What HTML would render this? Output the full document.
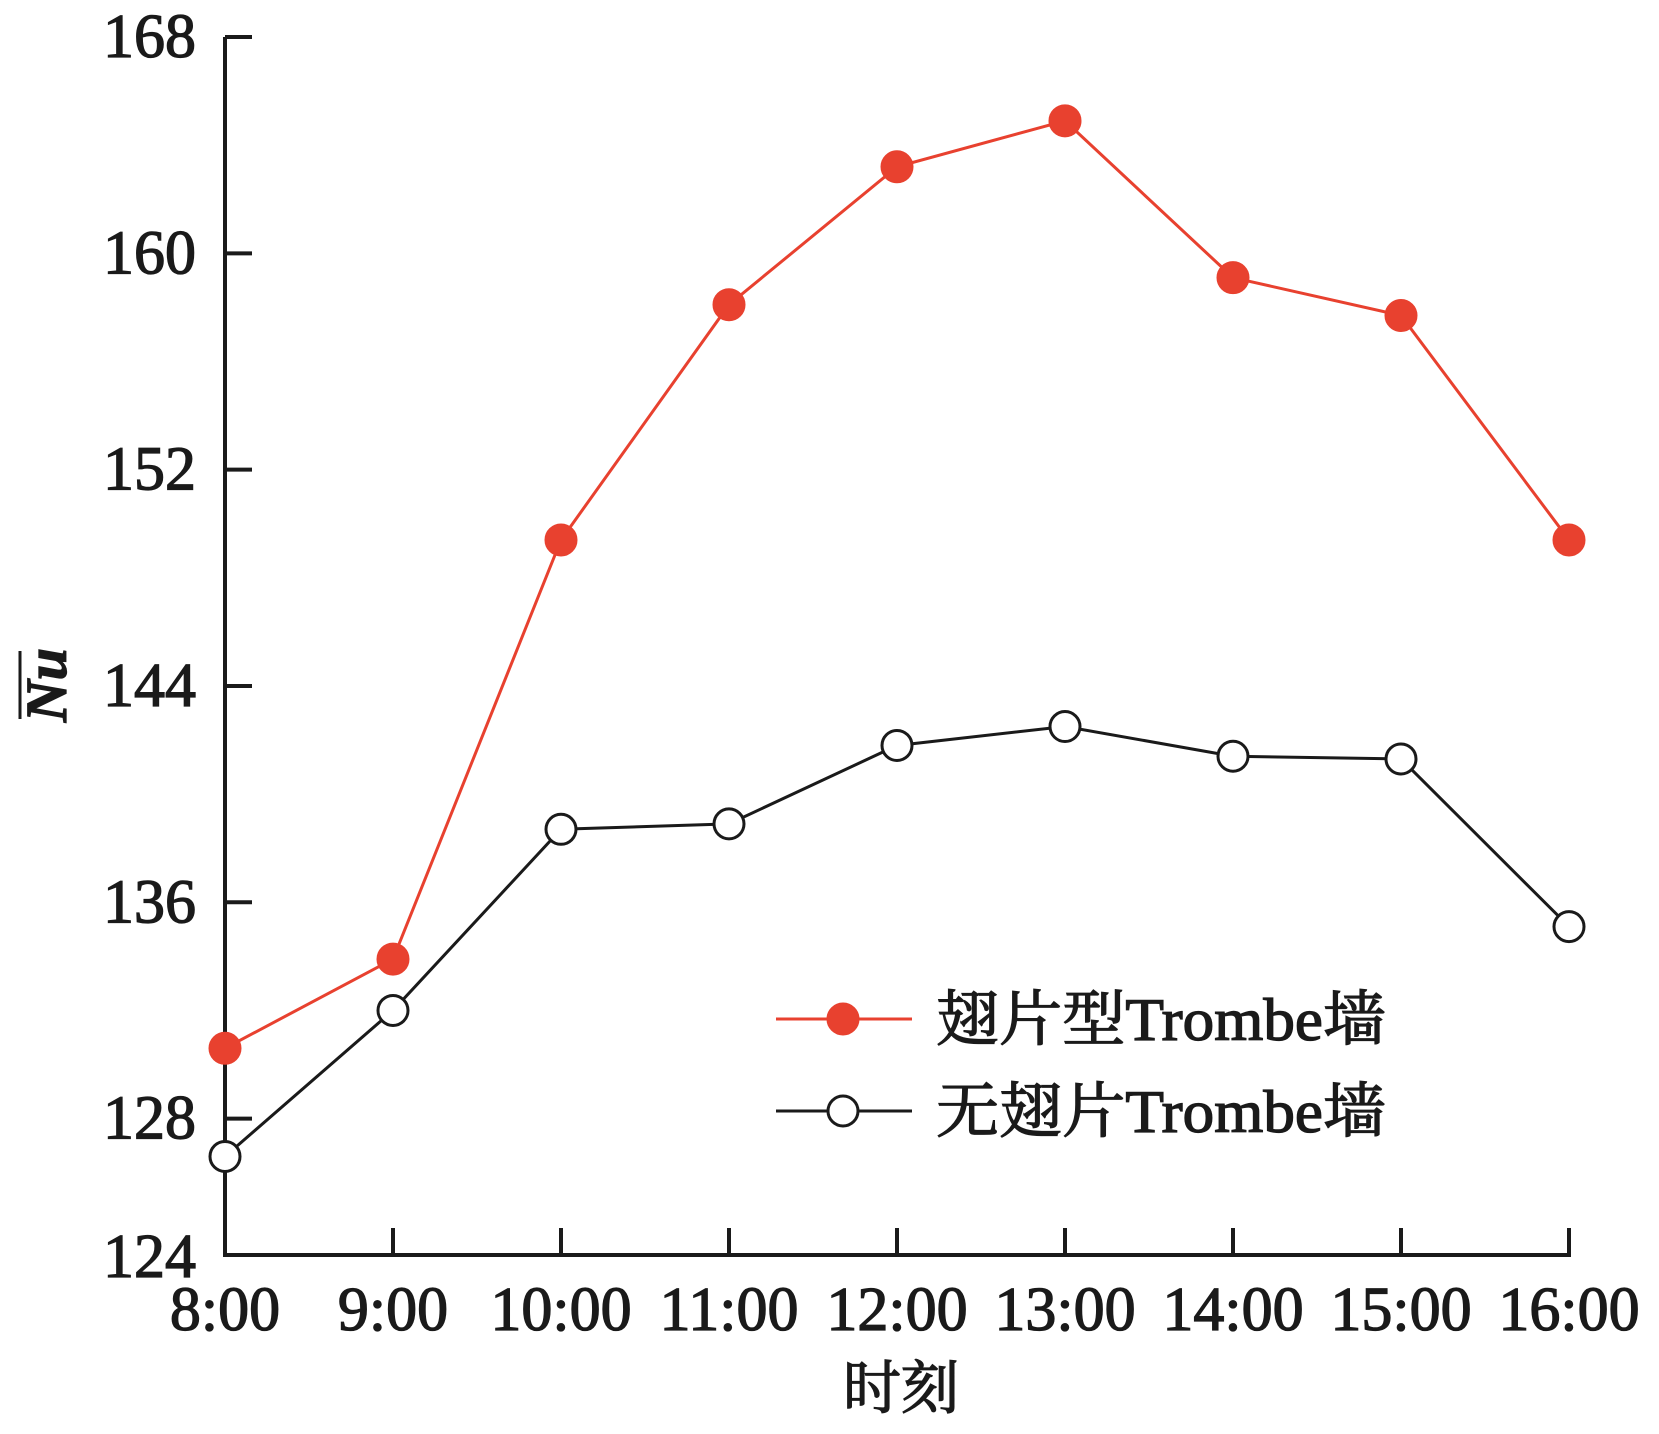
<!DOCTYPE html>
<html><head><meta charset="utf-8"><style>
html,body{margin:0;padding:0;background:#fff;}
svg{display:block;}
text{font-family:"Liberation Serif","Noto Serif CJK SC",serif;fill:#1a1a1a;stroke:#1a1a1a;stroke-width:1.3;}
</style></head><body>
<svg id="chart" width="1659" height="1434" viewBox="0 0 1659 1434"></svg>
<script>
const categories=["8:00","9:00","10:00","11:00","12:00","13:00","14:00","15:00","16:00"];
const finnedValues=[130.6,133.9,149.4,158.1,163.2,164.9,159.1,157.7,149.4];
const plainValues=[126.6,132.0,138.7,138.9,141.8,142.5,141.4,141.3,135.1];
const yTicks=[128,136,144,152,160,168];
const yBottomLabel=124;
const seriesNames=["翅片型Trombe墙","无翅片Trombe墙"];

const NS="http://www.w3.org/2000/svg";
const svg=document.getElementById('chart');
const X0=225,XSTEP=168,Y0=1255,YMAX=168,YTOP=37,PXPERUNIT=27.04;
const xs=i=>X0+i*XSTEP;
const ys=v=>YTOP+(YMAX-v)*PXPERUNIT;
function mk(tag,attrs,parent){const e=document.createElementNS(NS,tag);for(const k in attrs)e.setAttribute(k,attrs[k]);(parent||svg).appendChild(e);return e;}

const axes=mk('g',{});


const ya=mk('line',{x1:X0,y1:YTOP,x2:X0,y2:Y0,stroke:'#1a1a1a','stroke-width':4},axes);


const xa=mk('line',{x1:X0-2,y1:Y0,x2:xs(categories.length-1)+2,y2:Y0,stroke:'#1a1a1a','stroke-width':4},axes);



yTicks.forEach(t=>{
  const y=ys(t);
  const tk=mk('line',{x1:X0,y1:y,x2:X0+27,y2:y,stroke:'#1a1a1a','stroke-width':4},axes);
  
  
  const lb=mk('text',{x:196,y:y+20,'font-size':62,'text-anchor':'end'},axes);
  lb.textContent=t;
  
  
});
const bl=mk('text',{x:196,y:Y0+22,'font-size':62,'text-anchor':'end'},axes);
bl.textContent=yBottomLabel;



categories.forEach((c,i)=>{
  const x=xs(i);
  const tk=mk('line',{x1:x,y1:Y0,x2:x,y2:Y0-27,stroke:'#1a1a1a','stroke-width':4},axes);
  
  
  const lb=mk('text',{x:x,y:1330,'font-size':62,'text-anchor':'middle'},axes);
  lb.textContent=c;
  
  
});
const xt=mk('text',{x:901,y:1408,'font-size':58,'text-anchor':'middle'});
xt.textContent='时刻';


const ytg=mk('g',{transform:'translate(66,685) rotate(-90)'});


const yt=mk('text',{x:0,y:0,'font-size':58,'font-style':'italic','font-weight':'bold','text-anchor':'middle'},ytg);
yt.textContent='Nu';
mk('line',{x1:-34,y1:-46,x2:34,y2:-46,stroke:'#1a1a1a','stroke-width':3},ytg);

function series(vals,color,filled,name){
  const g=mk('g',{});
  
  
  const pl=mk('polyline',{points:vals.map((v,i)=>xs(i)+','+ys(v)).join(' '),fill:'none',stroke:color,'stroke-width':3},g);
  
  
  vals.forEach((v,i)=>{
    const c=mk('circle',{cx:xs(i),cy:ys(v),r:filled?16:15,fill:filled?color:'#fff',stroke:filled?color:'#1a1a1a','stroke-width':filled?1:3},g);
    
    
  });
}
series(finnedValues,'#e8412f',true,'finned-series');
series(plainValues,'#1a1a1a',false,'plain-series');

const lg=mk('g',{});


[[1019,'#e8412f',true],[1111,'#1a1a1a',false]].forEach((d,i)=>{
  const e=mk('g',{},lg);
  
  
  mk('line',{x1:776,y1:d[0],x2:912,y2:d[0],stroke:d[1],'stroke-width':3},e);
  mk('circle',{cx:843,cy:d[0],r:d[2]?16:15,fill:d[2]?d[1]:'#fff',stroke:d[1],'stroke-width':d[2]?1:3},e);
  const t=mk('text',{x:936,y:d[0]+21,'font-size':60,textLength:450,lengthAdjust:'spacingAndGlyphs'},e);
  t.textContent=seriesNames[i];
});
</script>
</body></html>
